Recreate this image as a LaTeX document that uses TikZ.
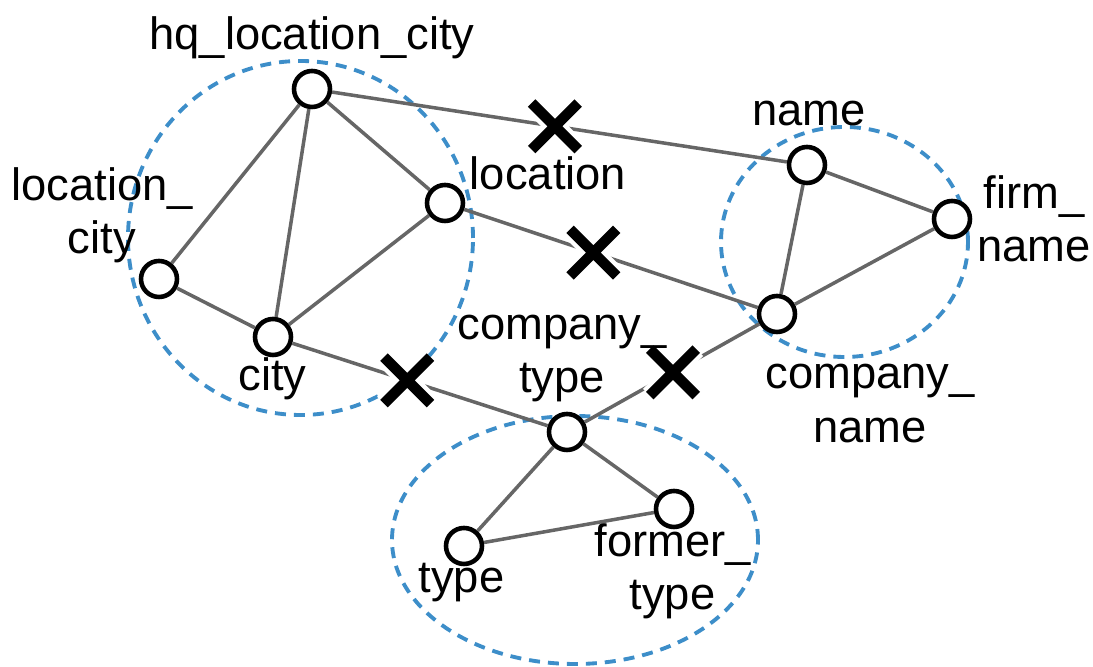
\documentclass[tikz,border=0pt]{standalone}
\usepackage{fontspec}
\setmainfont{Liberation Sans}
\usepackage{xcolor}
\usepackage{tikz}
\usetikzlibrary{positioning,shapes.misc}
\definecolor{grpBlue}{HTML}{3D8EC9}
\definecolor{edgeGray}{HTML}{666666}

\begin{document}
\begin{tikzpicture}[font=\fontsize{12.9}{15.1}\selectfont,
  attr/.style={draw, circle, line width=1.3pt, fill=white, minimum size=0.36cm, inner sep=0pt},
  edge/.style={draw=edgeGray, line width=1pt},
  grp/.style={draw=grpBlue, line width=1.1pt, dash pattern=on 0.11cm off 0.08cm},
  cut/.style={cross out, draw=black, line width=3pt, minimum size=0.36cm, inner sep=0pt,
    preaction={draw=white, line width=5.5pt}},
  lbl/.style={inner sep=0pt, align=center}]
\useasboundingbox (0,0) rectangle (10.93,6.67);
% dashed groups
\draw[grp] (3.005,4.29) ellipse (1.725 and 1.77);
\draw[grp] (8.445,4.25) ellipse (1.235 and 1.15);
\draw[grp] (5.75,1.27) ellipse (1.83 and 1.24);
% attributes
\node[attr] (hq) at (3.12,5.78) {};
\node[attr] (loc) at (4.45,4.64) {};
\node[attr] (lcity) at (1.59,3.88) {};
\node[attr] (city) at (2.73,3.30) {};
\node[attr] (name) at (8.07,5.02) {};
\node[attr] (firm) at (9.52,4.48) {};
\node[attr] (cname) at (7.77,3.53) {};
\node[attr] (ctype) at (5.67,2.35) {};
\node[attr] (ftype) at (6.74,1.58) {};
\node[attr] (type) at (4.64,1.21) {};
% edges inside groups
\draw[edge] (hq) -- (lcity);
\draw[edge] (hq) -- (city);
\draw[edge] (hq) -- (loc);
\draw[edge] (lcity) -- (city);
\draw[edge] (city) -- (loc);
\draw[edge] (name) -- (firm);
\draw[edge] (name) -- (cname);
\draw[edge] (firm) -- (cname);
\draw[edge] (ctype) -- (type);
\draw[edge] (ctype) -- (ftype);
\draw[edge] (type) -- (ftype);
% edges between groups, cut
\draw[edge] (hq) -- node[cut, pos=0.49] (x1) {} (name);
\draw[edge] (loc) -- node[cut, pos=0.44] (x2) {} (cname);
\draw[edge] (city) -- node[cut, pos=0.45] (x3) {} (ctype);
\draw[edge] (cname) -- node[cut, pos=0.494] (x4) {} (ctype);
% labels
\node[lbl] (hqL) at (3.12,6.295) {hq\_location\_city};
\node[lbl] (locL) at (5.48,4.94) {location};
\node[lbl] (lcityL) at (1.02,4.515) {location\_\\city};
\node[lbl] (cityL) at (2.725,2.88) {city};
\node[lbl] (nameL) at (8.09,5.53) {name};
\node[lbl] (firmL) at (10.34,4.48) {firm\_\\name};
\node[lbl] (ctypeL) at (5.62,3.085) {company\_\\type};
\node[lbl] (cnameL) at (8.70,2.635) {company\_\\name};
\node[lbl] (typeL) at (4.615,0.84) {type};
\node[lbl] (ftypeL) at (6.725,0.96) {former\_\\type};
\end{tikzpicture}
\end{document}
